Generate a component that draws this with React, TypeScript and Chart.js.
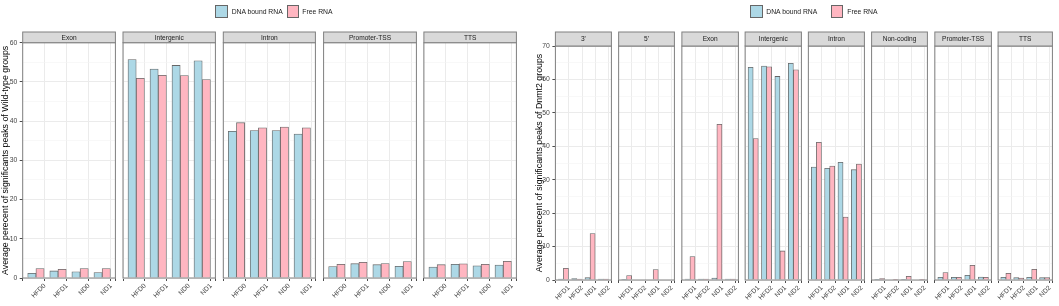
import React, { useEffect, useRef } from 'react';
import { Chart, registerables } from 'chart.js';

Chart.register(...registerables);

// ---------- data ----------
const seriesNames = ['DNA bound RNA', 'Free RNA'];

const wtGroups = ['HFD0', 'HFD1', 'ND0', 'ND1'];
const wtRegions = ['Exon', 'Intergenic', 'Intron', 'Promoter-TSS', 'TTS'];
const wtDnaBound = [
  [1.2, 1.8, 1.6, 1.4],
  [55.7, 53.3, 54.2, 55.4],
  [37.4, 37.6, 37.6, 36.7],
  [2.9, 3.65, 3.4, 3.0],
  [2.8, 3.5, 3.1, 3.3],
];
const wtFree = [
  [2.4, 2.2, 2.4, 2.4],
  [50.9, 51.7, 51.6, 50.6],
  [39.6, 38.3, 38.5, 38.3],
  [3.5, 4.0, 3.7, 4.2],
  [3.4, 3.6, 3.5, 4.25],
];
const wtYMax = 60;
const wtTitle = 'Average perecent of significants peaks of Wild-type groups';

const dnGroups = ['HFD1', 'HFD2', 'ND1', 'ND2'];
const dnRegions = ["3'", "5'", 'Exon', 'Intergenic', 'Intron', 'Non-coding', 'Promoter-TSS', 'TTS'];
const dnDnaBound = [
  [0.3, 0.4, 0.7, 0.3],
  [0.05, 0, 0, 0],
  [0.3, 0.3, 0.6, 0.3],
  [63.6, 64.0, 60.9, 64.8],
  [33.8, 33.4, 35.2, 33.0],
  [0.1, 0, 0.2, 0],
  [0.8, 0.8, 1.4, 0.9],
  [0.8, 0.7, 0.8, 0.7],
];
const dnFree = [
  [3.5, 0.3, 13.9, 0.3],
  [1.3, 0, 3.1, 0],
  [7.0, 0.3, 46.6, 0.3],
  [42.3, 63.8, 8.7, 62.9],
  [41.2, 34.1, 18.8, 34.7],
  [0.4, 0.05, 1.1, 0.05],
  [2.2, 0.8, 4.4, 0.8],
  [2.0, 0.6, 3.2, 0.7],
];
const dnYMax = 70;
const dnTitle = 'Average perecent of significants peaks of Dnmt2 groups';

// ---------- style ----------
const FONT = "'Liberation Sans', Arial, sans-serif";
const BLUE = '#add8e6';
const PINK = '#ffb6c1';
const EDGE = '#666666';
const FRAME = '#808080';
const W = 1059;
const H = 306;
const X_MIN = 0.4;
const X_MAX = 4.6;
const BAR_FRACTION = 0.36; // of one category unit, per bar

Chart.defaults.font.family = FONT;

type FacetProps = {
  region: string;
  groups: string[];
  dna: number[];
  free: number[];
  yMax: number;
  plotLeft: number;
  plotRight: number;
  plotTop: number;
  plotBottom: number;
  stripH: number;
  canvasLeft: number;
  canvasWidth: number;
  axisTitle?: string;
  titlePad?: number;
};

function Facet(p: FacetProps) {
  const ref = useRef<HTMLCanvasElement>(null);
  useEffect(() => {
    const canvas = ref.current;
    if (!canvas) return;
    const isFirst = !!p.axisTitle;
    const axisW = isFirst ? p.plotLeft - p.canvasLeft : 0;
    const padLeft = isFirst ? 0 : p.plotLeft - p.canvasLeft;
    const padRight = p.canvasLeft + p.canvasWidth - p.plotRight;
    const barPx = (BAR_FRACTION * (p.plotRight - p.plotLeft)) / (X_MAX - X_MIN);

    const decor = {
      id: 'facetDecor',
      afterDatasetsDraw(chart: any) {
        const { ctx, chartArea: a } = chart;
        ctx.save();
        ctx.strokeStyle = FRAME;
        ctx.lineWidth = 1;
        ctx.strokeRect(a.left, a.top, a.right - a.left, a.bottom - a.top);
        const sTop = a.top - p.stripH;
        ctx.fillStyle = '#d9d9d9';
        ctx.fillRect(a.left, sTop, a.right - a.left, p.stripH);
        ctx.strokeRect(a.left, sTop, a.right - a.left, p.stripH);
        ctx.fillStyle = '#1a1a1a';
        ctx.font = `6.6px ${FONT}`;
        ctx.textAlign = 'center';
        ctx.textBaseline = 'middle';
        ctx.fillText(p.region, (a.left + a.right) / 2, sTop + p.stripH / 2 + 0.5);
        ctx.restore();
      },
    };

    const chart = new Chart(canvas, {
      type: 'bar',
      data: {
        datasets: [
          {
            label: seriesNames[0],
            data: p.dna.map((v, i) => ({ x: i + 1, y: v })),
            backgroundColor: BLUE,
            borderColor: EDGE,
            borderWidth: 0.8,
            barThickness: barPx,
          },
          {
            label: seriesNames[1],
            data: p.free.map((v, i) => ({ x: i + 1, y: v })),
            backgroundColor: PINK,
            borderColor: EDGE,
            borderWidth: 0.8,
            barThickness: barPx,
          },
        ],
      },
      options: {
        responsive: false,
        animation: false,
        devicePixelRatio: 1,
        layout: { padding: { left: padLeft, right: padRight, top: p.plotTop, bottom: 0 } },
        plugins: { legend: { display: false }, tooltip: { enabled: false } },
        scales: {
          x: {
            type: 'linear',
            min: X_MIN,
            max: X_MAX,
            bounds: 'data',
            offset: false,
            border: { display: false },
            grid: {
              offset: false,
              color: '#ebebeb',
              lineWidth: 1,
              drawTicks: true,
              tickLength: 3,
              tickColor: '#4d4d4d',
            },
            ticks: {
              stepSize: 1,
              includeBounds: false,
              autoSkip: false,
              minRotation: 45,
              maxRotation: 45,
              padding: 1,
              color: '#444444',
              font: { size: 6.6, family: FONT },
              callback: (v: any) => p.groups[Math.round(Number(v)) - 1] ?? '',
            },
            afterFit: (s: any) => {
              s.height = H - p.plotBottom;
            },
          },
          y: {
            type: 'linear',
            min: 0,
            max: p.yMax,
            border: { display: false },
            grid: {
              color: (c: any) => (c.tick && c.tick.value % 10 === 0 ? '#ebebeb' : '#f3f3f3'),
              lineWidth: (c: any) => (c.tick && c.tick.value % 10 === 0 ? 1 : 0.6),
              drawTicks: isFirst,
              tickLength: 3,
              tickColor: (c: any) => (c.tick && c.tick.value % 10 === 0 ? '#4d4d4d' : 'rgba(0,0,0,0)'),
            },
            ticks: {
              display: isFirst,
              stepSize: 5,
              padding: 2.5,
              color: '#444444',
              font: { size: 6.8, family: FONT },
              callback: (v: any) => (Number(v) % 10 === 0 ? String(v) : ''),
            },
            title: {
              display: isFirst,
              text: p.axisTitle || '',
              color: '#000000',
              font: { size: 8.8, family: FONT },
              padding: { top: p.titlePad ?? 0, bottom: 0 },
            },
            afterFit: (s: any) => {
              s.width = axisW;
            },
          },
        },
      } as any,
      plugins: [decor],
    });
    return () => chart.destroy();
  }, []);

  return (
    <canvas
      ref={ref}
      width={p.canvasWidth}
      height={H}
      style={{ position: 'absolute', left: p.canvasLeft, top: 0, width: p.canvasWidth, height: H }}
    />
  );
}

function LegendItem({ boxLeft, textLeft, color, label }: { boxLeft: number; textLeft: number; color: string; label: string }) {
  return (
    <>
      <div
        style={{
          position: 'absolute',
          left: boxLeft,
          top: 5,
          width: 12.7,
          height: 12.7,
          boxSizing: 'border-box',
          background: color,
          border: `1px solid ${EDGE}`,
        }}
      />
      <div
        style={{
          position: 'absolute',
          left: textLeft,
          top: 5,
          height: 13,
          lineHeight: '13px',
          fontFamily: FONT,
          fontSize: 6.8,
          color: '#1a1a1a',
          whiteSpace: 'nowrap',
        }}
      >
        {label}
      </div>
    </>
  );
}

export default function App() {
  const facets: FacetProps[] = [];

  // Wild-type panel
  const wtStart = 22.7;
  const wtStep = 100.3;
  const wtWidth = 95.6;
  wtRegions.forEach((region, i) => {
    const plotLeft = wtStart + i * wtStep;
    const plotRight = plotLeft + wtWidth;
    const first = i === 0;
    const canvasLeft = first ? 0 : Math.floor(plotLeft - 12);
    const canvasRight = Math.min(W, Math.ceil(plotRight + 3));
    facets.push({
      region,
      groups: wtGroups,
      dna: wtDnaBound[i],
      free: wtFree[i],
      yMax: wtYMax,
      plotLeft,
      plotRight,
      plotTop: 42.7,
      plotBottom: 278,
      stripH: 10.7,
      canvasLeft,
      canvasWidth: canvasRight - canvasLeft,
      axisTitle: first ? wtTitle : undefined,
      titlePad: 0.7,
    });
  });

  // Dnmt2 panel
  const dnStart = 555.4;
  const dnStep = 63.24;
  const dnWidth = 59.2;
  dnRegions.forEach((region, i) => {
    const plotLeft = dnStart + i * dnStep;
    const plotRight = plotLeft + dnWidth;
    const first = i === 0;
    const canvasLeft = first ? 530 : Math.floor(plotLeft - 12);
    const canvasRight = Math.min(W, Math.ceil(plotRight + 3));
    facets.push({
      region,
      groups: dnGroups,
      dna: dnDnaBound[i],
      free: dnFree[i],
      yMax: dnYMax,
      plotLeft,
      plotRight,
      plotTop: 46,
      plotBottom: 280,
      stripH: 14,
      canvasLeft,
      canvasWidth: canvasRight - canvasLeft,
      axisTitle: first ? dnTitle : undefined,
      titlePad: 4.7,
    });
  });

  return (
    <div
      style={{
        position: 'absolute',
        left: 0,
        top: 0,
        width: W,
        height: H,
        overflow: 'hidden',
        background: '#ffffff',
      }}
    >
      {facets.map((f) => (
        <Facet key={f.axisTitle ? f.axisTitle : f.region + f.plotLeft} {...f} />
      ))}
      <LegendItem boxLeft={215} textLeft={231.7} color={BLUE} label={seriesNames[0]} />
      <LegendItem boxLeft={286.7} textLeft={302.3} color={PINK} label={seriesNames[1]} />
      <LegendItem boxLeft={750} textLeft={766.3} color={BLUE} label={seriesNames[0]} />
      <LegendItem boxLeft={830.7} textLeft={847.3} color={PINK} label={seriesNames[1]} />
    </div>
  );
}
